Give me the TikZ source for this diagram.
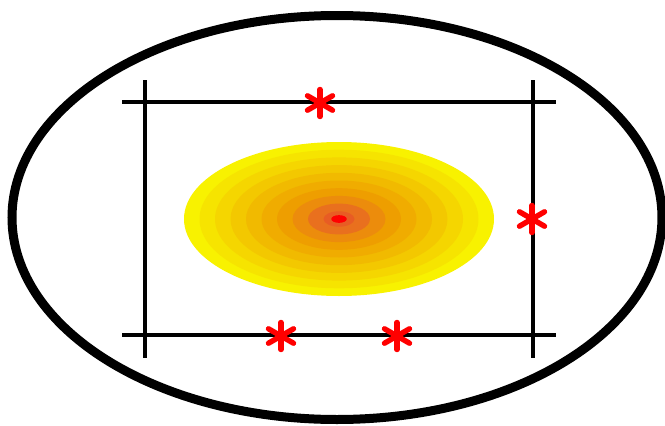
\documentclass[tikz,border=0pt]{standalone}
\begin{document}
\begin{tikzpicture}[x=1pt,y=-1pt,
  frame/.style={line width=3.5pt,black},
  star/.style={red,line width=5.4pt,line cap=round}]
\useasboundingbox (0,0) rectangle (665,426);
% outer ellipse
\draw[line width=9pt] (337,217.5) ellipse [x radius=325, y radius=202];
% gradient ellipse
\coordinate (c) at (339,219);
\definecolor{r0}{RGB}{248,242,0}
\definecolor{r1}{RGB}{246,228,0}
\definecolor{r2}{RGB}{245,214,0}
\definecolor{r3}{RGB}{243,200,0}
\definecolor{r4}{RGB}{241,186,0}
\definecolor{r5}{RGB}{240,172,0}
\definecolor{r6}{RGB}{238,158,0}
\definecolor{r7}{RGB}{236,140,12}
\definecolor{r8}{RGB}{233,112,30}
\definecolor{r9}{RGB}{232,92,36}
\definecolor{r10}{RGB}{255,0,0}
\foreach \i/\s in {0/1,1/0.9,2/0.8,3/0.7,4/0.6,5/0.5,6/0.4,7/0.3,8/0.2,9/0.1,10/0.05}
  \fill[r\i] (c) ellipse [x radius=155*\s, y radius=77*\s];
% frame lines
\coordinate (t1) at (122,102); \coordinate (t2) at (556,102);
\coordinate (b1) at (122,335); \coordinate (b2) at (556,335);
\coordinate (l1) at (145,80); \coordinate (l2) at (145,358);
\coordinate (r1) at (533,80); \coordinate (r2) at (533,358);
\draw[frame] (t1) -- (t2);
\draw[frame] (b1) -- (b2);
\draw[frame] (l1) -- (l2);
\draw[frame] (r1) -- (r2);
% asterisks
\foreach \px/\py in {320/103,532/219,281/336,397/336}{
  \begin{scope}[shift={(\px,\py)}]
  \coordinate (s) at (0,0);
  \draw[star] (0,-13.5) -- (0,13.5);
  \draw[star] (-12.5,-7.2) -- (12.5,7.2);
  \draw[star] (-12.5,7.2) -- (12.5,-7.2);
  \end{scope}
}
\end{tikzpicture}
\end{document}
